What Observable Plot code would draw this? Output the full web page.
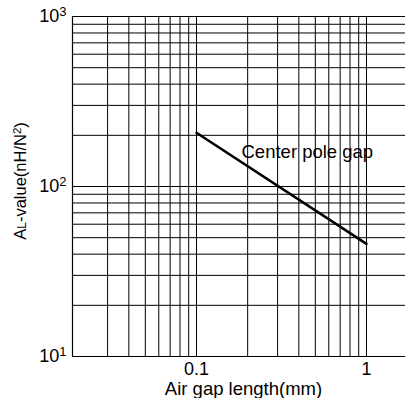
<!DOCTYPE html>
<html>
<head>
<meta charset="utf-8">
<script src="https://cdn.jsdelivr.net/npm/d3@7"></script>
<script src="https://cdn.jsdelivr.net/npm/@observablehq/plot@0.6"></script>
<style>
  html, body { margin: 0; padding: 0; background: #fff; }
  svg { display: block; }
</style>
</head>
<body>
<div id="chart"></div>
<script>
// Data
const gapLength = [0.1, 1];          // mm
const alValue = [207, 46];           // nH/N²
const seriesLabel = "Center pole gap";
const xGrid = [0.03, 0.04, 0.05, 0.06, 0.07, 0.08, 0.09, 0.1, 0.2, 0.3, 0.4, 0.5, 0.6, 0.7, 0.8, 0.9, 1];
const yGrid = [10, 20, 30, 40, 50, 60, 70, 80, 90, 100, 200, 300, 400, 500, 600, 700, 800, 900, 1000];
const xTicks = [0.1, 1];
const xTickLabels = ["0.1", "1"];
const yTicks = [10, 100, 1000];
const yTickExponents = ["1", "2", "3"];
const xTitle = "Air gap length(mm)";

const xDomain = [0.01865, 1.696];
const yDomain = [10, 1000];

const curve = gapLength.map((x, i) => ({x, y: alValue[i]}));

const font = "'Liberation Sans', Arial, Helvetica, sans-serif";

const chart = Plot.plot({
  width: 405,
  height: 398,
  marginLeft: 72,
  marginRight: 0,
  marginTop: 16,
  marginBottom: 42,
  style: {fontFamily: font, fontSize: "18px", color: "#000", background: "#fff"},
  x: {type: "log", domain: xDomain},
  y: {type: "log", domain: yDomain},
  marks: [
    Plot.ruleX(xGrid, {stroke: "#000", strokeWidth: 1, strokeOpacity: 1}),
    Plot.ruleY(yGrid, {stroke: "#000", strokeWidth: 1, strokeOpacity: 1}),
    Plot.ruleX([xDomain[0]], {stroke: "#000", strokeWidth: 1.2}),
    Plot.ruleY([yDomain[0]], {stroke: "#000", strokeWidth: 1.2}),
    Plot.line(curve, {x: "x", y: "y", stroke: "#000", strokeWidth: 2.6}),
    Plot.text([seriesLabel], {x: 0.184, y: 159, text: d => d, textAnchor: "start", fontSize: 18.5, fill: "#000"}),
    Plot.axisX({ticks: xTicks, tickFormat: (d) => xTickLabels[xTicks.indexOf(d)], tickSize: 0, tickPadding: 6, label: null, fontSize: 18}),
    Plot.axisY({ticks: yTicks, tickFormat: (d) => "10^" + yTickExponents[yTicks.indexOf(d)], tickSize: 0, tickPadding: 6, label: null, fontSize: 18}),
    Plot.text([xTitle], {frameAnchor: "bottom", dx: 4.5, dy: 38.5, text: d => d, fontSize: 18.5, fill: "#000"})
  ]
});

document.getElementById("chart").appendChild(chart);

const svg = d3.select(chart);

// Y tick labels as 10 with superscript exponent
svg.selectAll("text").each(function() {
  const el = d3.select(this);
  const s = el.text();
  const m = /^10\^(\d)$/.exec(s);
  if (m) {
    el.text("");
    el.attr("font-size", 18);
    el.append("tspan").text("10");
    el.append("tspan").attr("font-size", 13).attr("dy", "-0.45em").text(m[1]);
  }
});

// Y-axis title with small "L"
const t = svg.append("text")
  .attr("transform", "translate(26,181) rotate(-90)")
  .attr("text-anchor", "middle")
  .attr("font-family", font)
  .attr("font-size", 16.5)
  .attr("fill", "#000");
t.append("tspan").text("A");
t.append("tspan").attr("font-size", 12).text("L");
t.append("tspan").text("-value(nH/N");
t.append("tspan").attr("font-size", 11.5).attr("dy", "-0.45em").text("2");
t.append("tspan").attr("dy", "0.3em").text(")");
</script>
</body>
</html>
